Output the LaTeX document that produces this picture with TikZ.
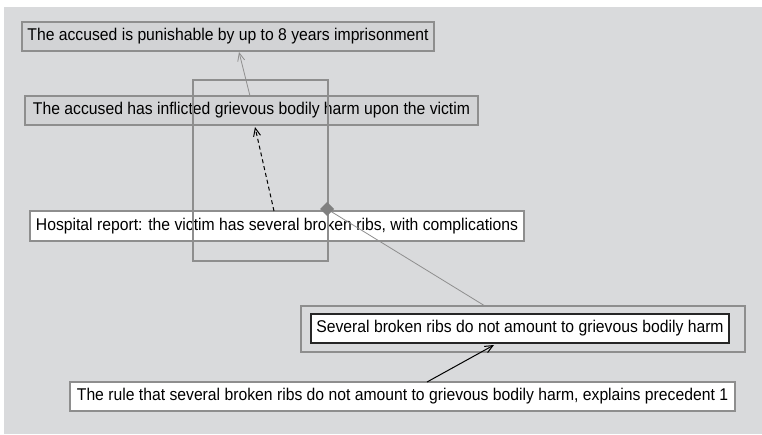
\documentclass[tikz,border=0pt]{standalone}
\usepackage{fontspec}
\setmainfont[FakeStretch=0.925]{Liberation Sans}
\usetikzlibrary{arrows.meta,shapes.geometric}
\definecolor{bg}{HTML}{D9DADC}
\definecolor{boxfill}{HTML}{D2D3D5}
\definecolor{edge}{HTML}{8E8E8E}
\tikzset{
  px/.style={x=1pt,y=-1pt},
  lbl/.style={font=\fontsize{17}{19}\selectfont, inner sep=0pt, anchor=center},
  graybox/.style={draw=edge, line width=1.2pt, fill=boxfill},
  whitebox/.style={draw=edge, line width=1.2pt, fill=white},
  blackbox/.style={draw=black!85, line width=1.3pt, fill=white},
  frame/.style={draw=edge, line width=1.2pt},
  openhead/.style={-{Straight Barb[length=8pt,width=7pt]}},
}
\begin{document}
\begin{tikzpicture}[px]
\useasboundingbox (0,0) rectangle (762,434);
\fill[bg] (4,7) rectangle (762,434);
% node boxes
\path[graybox] (22,22) rectangle (434,51);
\node[lbl] (n1) at (228,36.5) {The accused is punishable by up to 8 years imprisonment};
\coordinate (n1b) at (239,52);
\path[graybox] (25,96) rectangle (478,125);
\node[lbl] (n2) at (251.5,110.5) {The accused has inflicted grievous bodily harm upon the victim};
\coordinate (n2t) at (250,96);
\coordinate (n2b) at (255,127);
\path[whitebox] (30,211) rectangle (524,241);
\node[lbl] (n3) at (277,226) {Hospital report: the victim has several broken ribs, with complications};
\coordinate (n3t) at (274,211);
\path[frame] (301,306) rectangle (745,352);
\coordinate (outt) at (485,306);
\path[blackbox] (311,314) rectangle (729,343);
\node[lbl] (n4) at (520,328.5) {Several broken ribs do not amount to grievous bodily harm};
\coordinate (n4b) at (494,345);
\path[whitebox] (70,382) rectangle (735,411);
\node[lbl] (n5) at (402.5,396.5) {The rule that several broken ribs do not amount to grievous bodily harm, explains precedent 1};
\coordinate (n5t) at (427,382);
% overlay rectangle
\path[frame] (193,80) rectangle (328,261);
% connectors
\draw[edge, line width=0.8pt, openhead] (n2t) -- (n1b);
\draw[black, line width=1pt, dash pattern=on 4pt off 3pt, openhead] (n3t) -- (n2b);
\coordinate (dia) at (327,209);
\draw[edge, line width=0.8pt] (dia) -- (outt);
\fill[edge!90!black] (320,209) -- (327,202) -- (334,209) -- (327,216) -- cycle;
\node[inner sep=0pt] (d) at (dia) {};
\draw[black, line width=1pt, openhead] (n5t) -- (n4b);
\end{tikzpicture}
\end{document}
